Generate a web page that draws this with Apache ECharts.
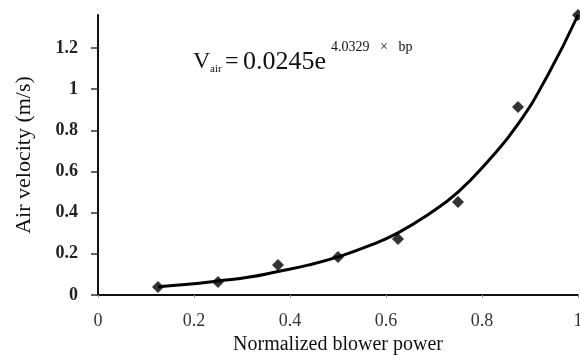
<!DOCTYPE html>
<html><head><meta charset="utf-8">
<script src="https://cdn.jsdelivr.net/npm/echarts@6/dist/echarts.min.js"></script>
<style>html,body{margin:0;padding:0;background:#fff}#c{width:580px;height:364px}</style>
</head><body><div id="c"></div>
<script>
var measuredX = [0.125, 0.25, 0.375, 0.5, 0.625, 0.75, 0.875, 1.0];
var measuredY = [0.039, 0.063, 0.146, 0.185, 0.272, 0.452, 0.913, 1.36];
var fitX = [0.125, 0.1875, 0.25, 0.3125, 0.375, 0.4375, 0.5, 0.5625, 0.625, 0.6875, 0.75, 0.8125, 0.875, 0.9375, 1.0];
var fitY = [0.040, 0.052, 0.068, 0.086, 0.114, 0.145, 0.185, 0.237, 0.302, 0.390, 0.500, 0.650, 0.830, 1.070, 1.36];
var yTicks = [0, 0.2, 0.4, 0.6, 0.8, 1, 1.2];
var xTicks = [0, 0.2, 0.4, 0.6, 0.8, 1];
var xName = 'Normalized blower power';
var yName = 'Air velocity (m/s)';

var chart = echarts.init(document.getElementById('c'));
var font = 'Liberation Serif';
chart.setOption({
  animation: false,
  grid: {left: 98, right: 2, top: 15, bottom: 69, outerBoundsMode: 'none', containLabel: false},
  xAxis: {
    type: 'value', min: 0, max: 1,
    name: xName, nameLocation: 'middle', nameGap: 36,
    nameTextStyle: {fontFamily: font, fontSize: 20, color: '#111'},
    axisLine: {show: true, onZero: false, lineStyle: {color: '#111', width: 2}},
    axisTick: {show: true, customValues: xTicks, length: 3, lineStyle: {color: '#999', width: 1}},
    axisLabel: {customValues: xTicks, fontFamily: font, fontSize: 18, color: '#333', margin: 17, formatter: function(v){return String(v);}},
    splitLine: {show: false}
  },
  yAxis: {
    type: 'value', min: 0, max: 1.36,
    name: yName, nameLocation: 'middle', nameGap: 63, nameRotate: 90,
    nameTextStyle: {fontFamily: font, fontSize: 22, color: '#111'},
    axisLine: {show: true, lineStyle: {color: '#111', width: 2}},
    axisTick: {show: true, customValues: yTicks, length: 7, lineStyle: {color: '#333', width: 1.5}},
    axisLabel: {customValues: yTicks, fontFamily: font, fontSize: 18, fontWeight: 'bold', color: '#222', margin: 20, formatter: function(v){return String(v);}},
    splitLine: {show: false}
  },
  series: [
    {
      type: 'line', smooth: true, symbol: 'none',
      data: fitX.map(function(x, i){return [x, fitY[i]];}),
      lineStyle: {color: '#000', width: 3}, z: 2
    },
    {
      type: 'scatter', symbol: 'diamond', symbolSize: 12,
      data: measuredX.map(function(x, i){return [x, measuredY[i]];}),
      itemStyle: {color: '#000'}, z: 3
    }
  ],
  graphic: [
    {type: 'text', left: 193, top: 50, style: {text: 'V', font: '24px "Liberation Serif"', fill: '#111'}},
    {type: 'text', left: 210, top: 64, style: {text: 'air', font: '11px "Liberation Serif"', fill: '#111'}},
    {type: 'text', left: 225, top: 50, style: {text: '=', font: '24px "Liberation Serif"', fill: '#111'}},
    {type: 'text', left: 243, top: 49, style: {text: '0.0245e', font: '26px "Liberation Serif"', fill: '#111'}},
    {type: 'text', left: 331, top: 40, style: {text: '4.0329   ×   bp', font: '14px "Liberation Serif"', fill: '#111'}}
  ]
});
</script></body></html>
